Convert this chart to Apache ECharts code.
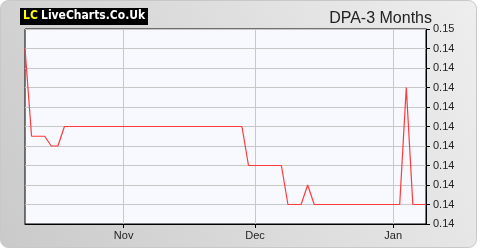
<!DOCTYPE html>
<html><head><meta charset="utf-8">
<script src="https://cdn.jsdelivr.net/npm/echarts@6/dist/echarts.min.js"></script>
<style>html,body{margin:0;padding:0;background:#fff}#c{width:480px;height:250px}</style>
</head><body><div id="c"></div>
<script>
const dates = [
 '2024-10-11','2024-10-14','2024-10-15','2024-10-16','2024-10-17','2024-10-18','2024-10-21','2024-10-22','2024-10-23','2024-10-24','2024-10-25','2024-10-28','2024-10-29','2024-10-30','2024-10-31',
 '2024-11-01','2024-11-04','2024-11-05','2024-11-06','2024-11-07','2024-11-08','2024-11-11','2024-11-12','2024-11-13','2024-11-14','2024-11-15','2024-11-18','2024-11-19','2024-11-20','2024-11-21','2024-11-22','2024-11-25','2024-11-26','2024-11-27','2024-11-29',
 '2024-12-02','2024-12-03','2024-12-04','2024-12-05','2024-12-06','2024-12-09','2024-12-10','2024-12-11','2024-12-12','2024-12-13','2024-12-16','2024-12-17','2024-12-18','2024-12-19','2024-12-20','2024-12-23','2024-12-24','2024-12-26','2024-12-27','2024-12-30','2024-12-31',
 '2025-01-02','2025-01-03','2025-01-06','2025-01-07','2025-01-08','2025-01-09'
];
const prices = [
 0.1445,0.14225,0.14225,0.14225,0.1420,0.1420,0.1425,0.1425,0.1425,0.1425,0.1425,0.1425,0.1425,0.1425,0.1425,
 0.1425,0.1425,0.1425,0.1425,0.1425,0.1425,0.1425,0.1425,0.1425,0.1425,0.1425,0.1425,0.1425,0.1425,0.1425,0.1425,0.1425,0.1425,0.1425,0.1415,
 0.1415,0.1415,0.1415,0.1415,0.1415,0.1405,0.1405,0.1405,0.1410,0.1405,0.1405,0.1405,0.1405,0.1405,0.1405,0.1405,0.1405,0.1405,0.1405,0.1405,0.1405,
 0.1405,0.1405,0.1435,0.1405,0.1405,0.1405
];
const monthNames = ['Jan','Feb','Mar','Apr','May','Jun','Jul','Aug','Sep','Oct','Nov','Dec'];
const yTickLabels = ['0.14','0.14','0.14','0.14','0.14','0.14','0.14','0.14','0.14','0.14','0.15'];
const titleText = 'DPA-3 Months';

function isMonthStart(i){
  if (i === 0) return false;
  return dates[i].slice(5,7) !== dates[i-1].slice(5,7);
}
const chart = echarts.init(document.getElementById('c'), null, {renderer:'canvas'});
chart.setOption({
  animation:false,
  backgroundColor:'#fff',
  graphic:[
    {type:'rect', z:-10, shape:{x:0.5,y:0.5,width:476,height:247,r:8},
     style:{fill:new echarts.graphic.LinearGradient(0,1,1,0,[{offset:0,color:'#cacaca'},{offset:1,color:'#eeeeee'}]), stroke:'#c8c8c8', lineWidth:1}},
    {type:'rect', shape:{x:20,y:8,width:128,height:17}, style:{fill:'#000'}},
    {type:'text', x:23, y:10, style:{text:'LC', fill:'#ffff00', font:'bold 12px "DejaVu Sans Condensed", "DejaVu Sans"'}},
    {type:'text', x:41, y:10, style:{text:'LiveCharts.Co.Uk', fill:'#fff', font:'bold 12px "DejaVu Sans Condensed", "DejaVu Sans"'}}
  ],
  title:{text:titleText, right:43, top:6, textStyle:{fontFamily:'Liberation Sans', fontSize:16, fontWeight:'normal', color:'#222'}},
  grid:{left:25, right:54, top:29, bottom:26, show:true, backgroundColor:'#f8f8ff', borderColor:'#000', borderWidth:1},
  xAxis:{
    type:'category', data:dates, boundaryGap:false,
    axisLine:{show:true, lineStyle:{color:'#000'}},
    axisTick:{show:true, length:4, interval:(i)=>isMonthStart(i), lineStyle:{color:'#000'}},
    axisLabel:{interval:(i)=>isMonthStart(i), formatter:(v)=>monthNames[parseInt(v.slice(5,7),10)-1], color:'#222', fontFamily:'Liberation Sans', fontSize:11, margin:6},
    splitLine:{show:true, interval:(i)=>isMonthStart(i), lineStyle:{color:'#c8c8c8', width:1}}
  },
  yAxis:{
    type:'value', position:'right', min:0.14, max:0.145, interval:0.0005,
    axisLine:{show:true, lineStyle:{color:'#000'}},
    axisTick:{show:true, length:4, lineStyle:{color:'#000'}},
    axisLabel:{formatter:(v,i)=>yTickLabels[i], color:'#222', fontFamily:'Liberation Sans', fontSize:11, margin:7},
    splitLine:{show:true, lineStyle:{color:'#c8c8c8', width:1}}
  },
  series:[{type:'line', data:prices, showSymbol:false, symbol:'none', lineStyle:{color:'#ff3a3a', width:1.2}}]
});
</script></body></html>
